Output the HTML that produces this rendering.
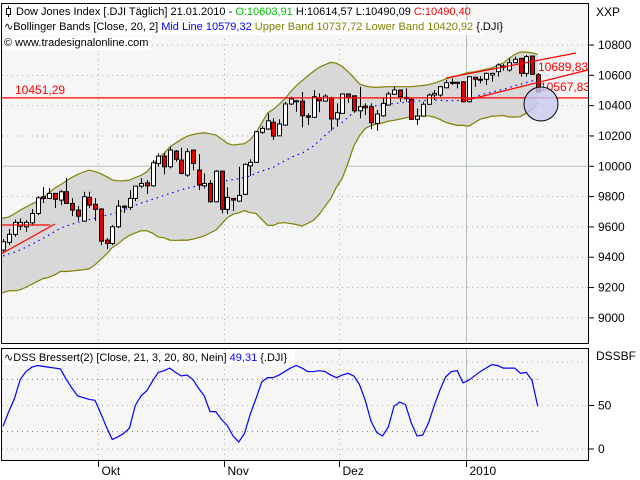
<!DOCTYPE html>
<html><head><meta charset="utf-8"><style>
html,body{margin:0;padding:0;background:#fff;}
svg{display:block;font-family:"Liberation Sans",Tahoma,sans-serif;}
</style></head><body>
<svg id="chart" width="640" height="480" viewBox="0 0 640 480" xmlns="http://www.w3.org/2000/svg">
<defs><clipPath id="pc"><rect x="2" y="4" width="586" height="339"/></clipPath></defs>
<rect x="0" y="0" width="640" height="480" fill="#ffffff"/>
<rect x="1.5" y="3.5" width="587" height="340" fill="#f6f6f6" stroke="#000"/>
<rect x="1.5" y="348.5" width="587" height="112" fill="#f6f6f6" stroke="#000"/>
<g id="grid"></g>
<g id="bands" clip-path="url(#pc)"></g>
<g id="candles"></g>
<g id="overlays" clip-path="url(#pc)"></g>
<g id="dss"></g>
<g id="axes" font-size="12"></g>
<g id="legend" font-size="11">
  <rect x="3" y="4" width="462" height="15" fill="#fff"/>
  <text x="16" y="15"><tspan>Dow Jones Index [.DJI  Täglich] 21.01.2010 - </tspan><tspan fill="#00c000">O:10603,91</tspan><tspan> H:10614,57 L:10490,09 </tspan><tspan fill="#ff0000">C:10490,40</tspan></text>
  <g><line x1="8.5" y1="6" x2="8.5" y2="17" stroke="#000"/><rect x="6.5" y="8.5" width="4" height="6" fill="#fff" stroke="#000"/></g>
  <rect x="3" y="20" width="480" height="15" fill="#fff"/>
  <text x="4" y="30"><tspan>∿Bollinger Bands [Close, 20, 2] </tspan><tspan fill="#0000ff">Mid Line 10579,32 </tspan><tspan fill="#808000">Upper Band 10737,72 Lower Band 10420,92 </tspan><tspan>{.DJI}</tspan></text>
  <rect x="3" y="36" width="148" height="14" fill="#fff"/>
  <text x="4" y="46">© www.tradesignalonline.com</text>
  <rect x="3" y="350" width="292" height="15" fill="#fff"/>
  <text x="4" y="361"><tspan>∿DSS Bressert(2) [Close, 21, 3, 20, 80, Nein] </tspan><tspan fill="#0000ff">49,31</tspan><tspan> {.DJI}</tspan></text>
</g>
</svg>
<script>
const opens=[9447,9498,9551,9605,9601,9627,9689,9799,9788,9821,9777,9832,9755,9711,9638,9795,9749,9718,9513,9491,9601,9737,9729,9788,9869,9891,9871,10019,10067,9997,10100,10041,9942,10107,9975,9871,9887,9766,9968,9716,9788,9770,9815,10003,10026,10224,10246,10290,10201,10272,10411,10432,10430,10333,10323,10452,10430,10452,10312,10349,10477,10465,10366,10397,10393,10283,10333,10404,10475,10503,10455,10442,10310,10331,10409,10470,10470,10518,10554,10554,10558,10426,10587,10574,10574,10602,10624,10661,10635,10683,10712,10613,10727,10604];
const highs=[9520,9586,9650,9656,9645,9718,9803,9863,9856,9823,9843,9922,9790,9737,9832,9832,9790,9724,9526,9612,9777,9744,9843,9869,9922,9909,10041,10085,10089,10129,10107,10122,10118,10107,10081,9953,9909,9975,9968,9861,9790,9997,10019,10046,10232,10265,10349,10316,10310,10426,10459,10437,10490,10349,10503,10481,10477,10459,10415,10477,10477,10465,10525,10415,10415,10371,10448,10492,10525,10503,10514,10442,10382,10426,10481,10503,10529,10569,10580,10558,10558,10591,10591,10595,10617,10617,10679,10675,10712,10723,10712,10734,10727,10615];
const lows=[9436,9480,9535,9579,9568,9612,9678,9757,9784,9726,9744,9751,9671,9640,9634,9724,9640,9480,9454,9480,9592,9693,9711,9770,9856,9817,9865,9997,9947,9986,10030,9947,9931,9975,9843,9854,9759,9762,9689,9685,9706,9766,9810,9935,10023,10213,10239,10173,10199,10267,10404,10360,10257,10272,10320,10356,10426,10234,10261,10347,10419,10353,10316,10338,10246,10234,10327,10399,10470,10426,10426,10305,10272,10327,10404,10437,10459,10514,10536,10514,10420,10422,10525,10547,10536,10558,10591,10630,10624,10679,10591,10591,10602,10490];
const closes=[9502,9551,9630,9630,9630,9689,9792,9788,9821,9782,9832,9755,9711,9671,9799,9744,9716,9506,9491,9601,9737,9729,9788,9869,9887,9871,10023,10067,9997,10107,10046,9953,10096,10019,9876,9887,9766,9968,9716,9795,9777,9808,10013,10026,10228,10250,10300,10199,10279,10411,10444,10426,10333,10323,10459,10432,10463,10312,10353,10477,10452,10366,10393,10386,10287,10345,10415,10477,10503,10459,10446,10310,10331,10409,10470,10481,10525,10551,10547,10547,10426,10591,10574,10569,10613,10613,10668,10653,10683,10706,10613,10723,10607,10490];
const upperBand=[9655,9665,9687,9711,9731,9751,9769,9793,9826,9856,9878,9904,9927,9946,9963,9974,9966,9951,9932,9910,9904,9904,9909,9926,9940,9963,10005,10057,10085,10127,10153,10177,10198,10209,10217,10221,10214,10207,10181,10151,10140,10145,10149,10176,10221,10286,10351,10376,10408,10444,10490,10532,10564,10596,10626,10653,10670,10686,10679,10659,10624,10585,10543,10529,10523,10521,10523,10525,10525,10525,10525,10525,10529,10533,10538,10549,10561,10576,10587,10596,10608,10620,10623,10631,10640,10648,10666,10681,10712,10738,10754,10753,10749,10738];
const midLine=[9409,9422,9433,9448,9467,9486,9505,9526,9547,9570,9592,9605,9618,9630,9640,9649,9658,9668,9677,9687,9696,9712,9727,9743,9757,9769,9782,9795,9807,9820,9832,9845,9855,9864,9873,9881,9887,9893,9900,9906,9912,9919,9928,9935,9955,9968,9981,9993,10017,10036,10056,10074,10085,10110,10135,10168,10203,10236,10271,10290,10322,10359,10372,10389,10396,10400,10404,10411,10414,10418,10422,10426,10430,10433,10435,10437,10435,10433,10433,10433,10439,10442,10455,10471,10480,10489,10499,10508,10519,10531,10541,10552,10563,10579];
const dssValues=[26,43,58,80,89,94,96,95,94,93,92,80,70,61,59,57,56,41,25,11,14,18,24,50,61,67,78,88,90,93,88,84,85,80,70,61,43,43,34,27,15,8,18,40,58,77,82,82,85,89,93,96,93,89,89,90,89,85,82,85,87,84,74,56,32,19,15,25,49,54,51,30,15,16,30,50,68,83,89,90,76,79,84,89,93,97,96,93,93,93,87,88,79,49];
const priceTicks=[10800,10600,10400,10200,10000,9800,9600,9400,9200,9000];
const dssTicks=[50,0];
const monthLabels=["Okt","Nov","Dez","2010"];
const monthIndex=[17,39,59,81];
const supportLevel=10451.29;
const trendLabels=["10689,83","10567,83"];

const NS="http://www.w3.org/2000/svg";
const X=i=>3+5.75*i;
const Y=v=>45+(10800-v)*0.1516;
const DY=v=>449-v*0.87;
function mk(parent,tag,attrs){const e=document.createElementNS(NS,tag);for(const k in attrs)e.setAttribute(k,attrs[k]);document.getElementById(parent).appendChild(e);return e;}

priceTicks.forEach(v=>{
  const solid=v===10000;
  const g=mk('grid','line',{x1:2,x2:588,y1:Y(v),y2:Y(v),stroke:solid?'#b4c4b4':'#b0b0b0','stroke-dasharray':solid?'none':'1,4'});
  
  
});
monthIndex.forEach((mi,k)=>{
  const x=Math.round(X(mi)-0.5*5.75)+0.5;
  const solid=k===3;
  [[4,343],[349,460]].forEach(r=>{
    const g=mk('grid','line',{x1:x,x2:x,y1:r[0],y2:r[1],stroke:solid?'#b4c4b4':'#b0b0b0','stroke-dasharray':solid?'none':'1,4'});
    
    
  });
  const t=mk('grid','line',{x1:x,x2:x,y1:461,y2:467,stroke:'#000'});
  
  
  const lb=mk('axes','text',{x:x+3,y:475});
  lb.textContent=monthLabels[k];
  
  
});
[[100,'#b0b0b0',588],[80,'#707070',540],[50,'#b0b0b0',588],[20,'#707070',540],[0,'#b0b0b0',588]].forEach(d=>{
  const g=mk('grid','line',{x1:2,x2:d[2],y1:DY(d[0]),y2:DY(d[0]),stroke:d[1],'stroke-dasharray':'1,4'});
  
  
});

let up=[],lo=[],md=[];
upperBand.forEach((u,i)=>{const m=midLine[i];up.push(X(i)+','+Y(u));lo.push(X(i)+','+Y(2*m-u));md.push(X(i)+','+Y(m));});
up[0]='1,'+Y(upperBand[0]);lo[0]='1,'+Y(2*midLine[0]-upperBand[0]);
const fill=mk('bands','polygon',{points:up.concat(lo.slice().reverse()).join(' '),fill:'#d8d8d8',stroke:'none'});


const ub=mk('bands','polyline',{points:up.join(' '),fill:'none',stroke:'#808000','stroke-width':1.2});


const lb2=mk('bands','polyline',{points:lo.join(' '),fill:'none',stroke:'#808000','stroke-width':1.2});


const ml=mk('bands','polyline',{points:md.join(' '),fill:'none',stroke:'#0000ff','stroke-width':1.2,'stroke-dasharray':'1.5,4'});



opens.forEach((o,i)=>{
  const c=closes[i],x=Math.round(X(i))+0.5;
  const g=mk('candles','g',{});
  
  
  const w=document.createElementNS(NS,'line');
  w.setAttribute('x1',x);w.setAttribute('x2',x);w.setAttribute('y1',Y(highs[i]));w.setAttribute('y2',Y(lows[i]));w.setAttribute('stroke','#000');
  g.appendChild(w);
  const top=Y(Math.max(o,c)),bot=Y(Math.min(o,c));
  const r=document.createElementNS(NS,'rect');
  r.setAttribute('x',x-2);r.setAttribute('y',top);r.setAttribute('width',4);r.setAttribute('height',Math.max(1,bot-top));
  r.setAttribute('fill',c<o?'#e00000':'#ffffff');r.setAttribute('stroke','#000');
  g.appendChild(r);
});

const sl=mk('overlays','line',{x1:2,x2:588,y1:Y(supportLevel),y2:Y(supportLevel),stroke:'#ff0000','stroke-width':1.2});


const st=mk('overlays','text',{x:15,y:Y(supportLevel)-4,fill:'#ff0000','font-size':12});
st.textContent=supportLevel.toFixed(2).replace('.',',');


[[1,225,50,225],[1,254,55,224],[446,78,576,53],[463,101,588,70]].forEach(s=>{
  const l=mk('overlays','line',{x1:s[0],y1:s[1],x2:s[2],y2:s[3],stroke:'#ff0000','stroke-width':1.2});
  
  
});
[[538,71],[540,91]].forEach((p,k)=>{
  const t=mk('overlays','text',{x:p[0],y:p[1],fill:'#ff0000','font-size':12});
  t.textContent=trendLabels[k];
  
  
});
const circ=mk('overlays','circle',{cx:541,cy:104,r:17,fill:'#c8c8f0','fill-opacity':0.8,stroke:'#000'});



const dp=dssValues.map((v,i)=>X(i)+','+DY(v));
const dl=mk('dss','polyline',{points:dp.join(' '),fill:'none',stroke:'#0000ff','stroke-width':1.2});



const xx=mk('axes','text',{x:596,y:16});xx.textContent='XXP';


const ds=mk('axes','text',{x:596,y:360});ds.textContent='DSSBF';


priceTicks.forEach(v=>{
  const t=mk('axes','line',{x1:589,x2:594,y1:Y(v),y2:Y(v),stroke:'#000'});
  
  
  const l=mk('axes','text',{x:598,y:Y(v)+4});l.textContent=v;
  
  
});
dssTicks.forEach(v=>{
  const t=mk('axes','line',{x1:589,x2:594,y1:DY(v),y2:DY(v),stroke:'#000'});
  
  
  const l=mk('axes','text',{x:598,y:DY(v)+4});l.textContent=v;
  
  
});
</script>
</body></html>
